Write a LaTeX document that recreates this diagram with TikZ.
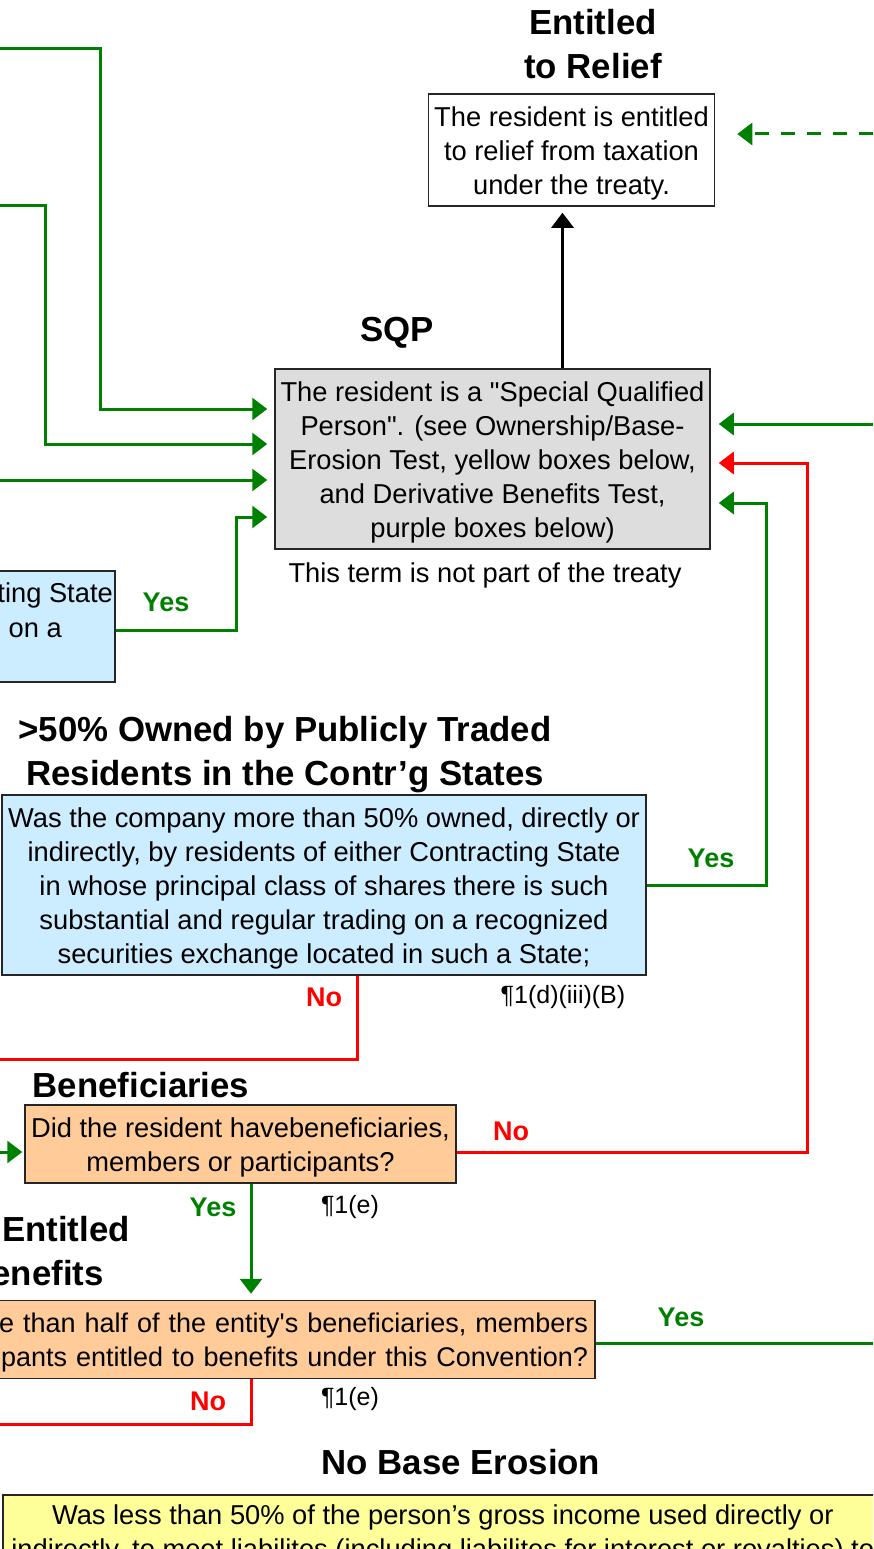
\documentclass[tikz,border=0pt]{standalone}
\usepackage{fontspec}
\setmainfont{Liberation Sans}[Ligatures=TeXOff]
\usetikzlibrary{arrows.meta}

\definecolor{flowgreen}{HTML}{008000}
\definecolor{flowred}{HTML}{FF0000}
\definecolor{sqpgray}{HTML}{DDDDDD}
\definecolor{pubblue}{HTML}{CCECFF}
\definecolor{benorange}{HTML}{FFCC99}
\definecolor{baseyellow}{HTML}{FFFF99}

\newcommand{\bodysize}{\fontsize{27.3}{34}\selectfont}
\newcommand{\headsize}{\fontsize{34.8}{44}\selectfont\bfseries}
% extra room above the first line of a box
\newcommand{\topline}{\rule{0pt}{26pt}}

\tikzset{
  box/.style={draw=black!85, line width=1.5pt, inner sep=0pt, align=center, font=\bodysize},
  head/.style={inner sep=0pt, align=center, font=\headsize},
  note/.style={inner sep=0pt, font=\bodysize},
  cite/.style={inner sep=0pt, font=\fontsize{25}{30}\selectfont},
  yes/.style={inner sep=0pt, text=flowgreen, font=\fontsize{27}{30}\selectfont\bfseries},
  no/.style={inner sep=0pt, text=flowred, font=\fontsize{27}{30}\selectfont\bfseries},
  tip/.style={-{Triangle[length=15pt,width=22pt]}},
  yesline/.style={draw=flowgreen, line width=3pt},
  noline/.style={draw=flowred, line width=3pt},
  upline/.style={draw=black, line width=3pt}
}

\begin{document}
\begin{tikzpicture}[x=1pt,y=-1pt]
  \useasboundingbox (0,0) rectangle (873,1549);
  \clip (0,0) rectangle (873,1549);

  % result and SQP
  \node[box, fill=white, minimum width=286pt, minimum height=112pt] (relief) at (571.5,150)
    {\topline The resident is entitled\\to relief from taxation\\under the treaty.};
  \node[head] (reliefhead) at (593,44) {Entitled\\to Relief};
  \node[box, fill=sqpgray, minimum width=435pt, minimum height=180pt] (sqp) at (492.5,459)
    {\topline The resident is a "Special Qualified\\Person". (see Ownership/Base-\\Erosion Test, yellow boxes below,\\and Derivative Benefits Test,\\purple boxes below)};
  \node[head] (sqphead) at (397,333) {SQP};
  \node[note] (sqpnote) at (485,575) {This term is not part of the treaty};

  % publicly traded tests
  \node[box, fill=pubblue, minimum width=215pt, minimum height=111pt] (stock) at (7.5,626.5) {};
  \node[note, anchor=east] (stocktxtA) at (113,595) {ting State};
  \node[note, anchor=east] (stocktxtB) at (62,630) {on a};
  \node[head] (pubhead) at (285,755) {>50\% Owned by Publicly Traded\\Residents in the Contr’g States};
  \node[box, fill=pubblue, minimum width=644pt, minimum height=180pt] (pub) at (324,885)
    {\topline Was the company more than 50\% owned, directly or\\indirectly, by residents of either Contracting State\\in whose principal class of shares there is such\\substantial and regular trading on a recognized\\securities exchange located in such a State;};

  % beneficiaries
  \node[head] (benhead) at (141,1085) {Beneficiaries};
  \node[box, fill=benorange, minimum width=431pt, minimum height=78pt] (ben) at (240.5,1144)
    {\topline Did the resident havebeneficiaries,\\members or participants?};
  \node[head, anchor=east] (halfheadA) at (130,1229) {Entitled};
  \node[head, anchor=east] (halfheadB) at (104,1273) {enefits};
  \node[box, fill=benorange, minimum height=78pt, text width=781pt, inner xsep=7pt, align=right,
        font=\fontsize{27}{34}\selectfont] (half) at (197.5,1339.5)
    {\topline re than half of the entity's beneficiaries, members\\pants entitled to benefits under this Convention?};

  % base erosion
  \node[head] (erosionhead) at (461,1462) {No Base Erosion};
  \node[box, fill=baseyellow, anchor=north west, minimum width=880pt, inner ysep=10pt] (erosion) at (2,1494)
    {Was less than 50\% of the person’s gross income used directly or\\indirectly, to meet liabilites (including liabilites for interest or royalties) to};

  % labels
  \node[yes] (yesA) at (166,602) {Yes};
  \node[yes] (yesB) at (711,858) {Yes};
  \node[no] (noA) at (324,997) {No};
  \node[cite] (citeA) at (563,997) {¶1(d)(iii)(B)};
  \node[no] (noB) at (511,1131) {No};
  \node[yes] (yesC) at (213,1207) {Yes};
  \node[cite] (citeB) at (350,1207) {¶1(e)};
  \node[yes] (yesD) at (681,1317) {Yes};
  \node[no] (noC) at (208,1401) {No};
  \node[cite] (citeC) at (350,1399) {¶1(e)};

  % free ends at the border
  \coordinate (inA) at (0,49);
  \coordinate (inB) at (0,205);
  \coordinate (inC) at (0,480);
  \coordinate (inD) at (873,424);
  \coordinate (inE) at (873,134);
  \coordinate (outF) at (0,1059);
  \coordinate (inG) at (0,1152);
  \coordinate (outH) at (873,1343);
  \coordinate (outI) at (0,1424);

  % connectors
  \draw[yesline, tip, shorten >=7pt] (inA) -- ++(100,0) |- ([yshift=50pt]sqp.west);
  \draw[yesline, tip, shorten >=7pt] (inB) -- ++(45,0) |- ([yshift=15pt]sqp.west);
  \draw[yesline, tip, shorten >=7pt] (inC) -- (inC -| sqp.west);
  \draw[yesline, tip, shorten >=7pt] ([yshift=-4pt]stock.east) -- ++(121,0) |- ([yshift=-58pt]sqp.west);
  \draw[yesline, tip, shorten >=8pt] (inD) -- (inD -| sqp.east);
  \draw[noline, tip, shorten >=8pt] ([yshift=-8pt]ben.east) -- ++(351,0) |- ([yshift=-4pt]sqp.east);
  \draw[yesline, tip, shorten >=8pt] (pub.east) -- ++(120,0) |- ([yshift=-44pt]sqp.east);
  \draw[yesline, tip, dash pattern=on 14pt off 12pt, shorten >=22pt] (inE) -- (inE -| relief.east);
  \draw[upline, tip, shorten >=6pt] ([xshift=-9pt]relief.south |- sqp.north) -- ([xshift=-9pt]relief.south);
  \draw[noline] ([xshift=33pt]pub.south) |- (outF);
  \draw[yesline, tip, shorten >=2pt] (inG) -- (inG -| ben.west);
  \draw[yesline, tip, shorten >=6pt] ([xshift=10.5pt]ben.south) -- ([xshift=10.5pt]ben.south |- half.north);
  \draw[yesline] (half.east |- outH) -- (outH);
  \draw[noline] ([xshift=53.5pt]half.south) |- (outI);
\end{tikzpicture}
\end{document}
